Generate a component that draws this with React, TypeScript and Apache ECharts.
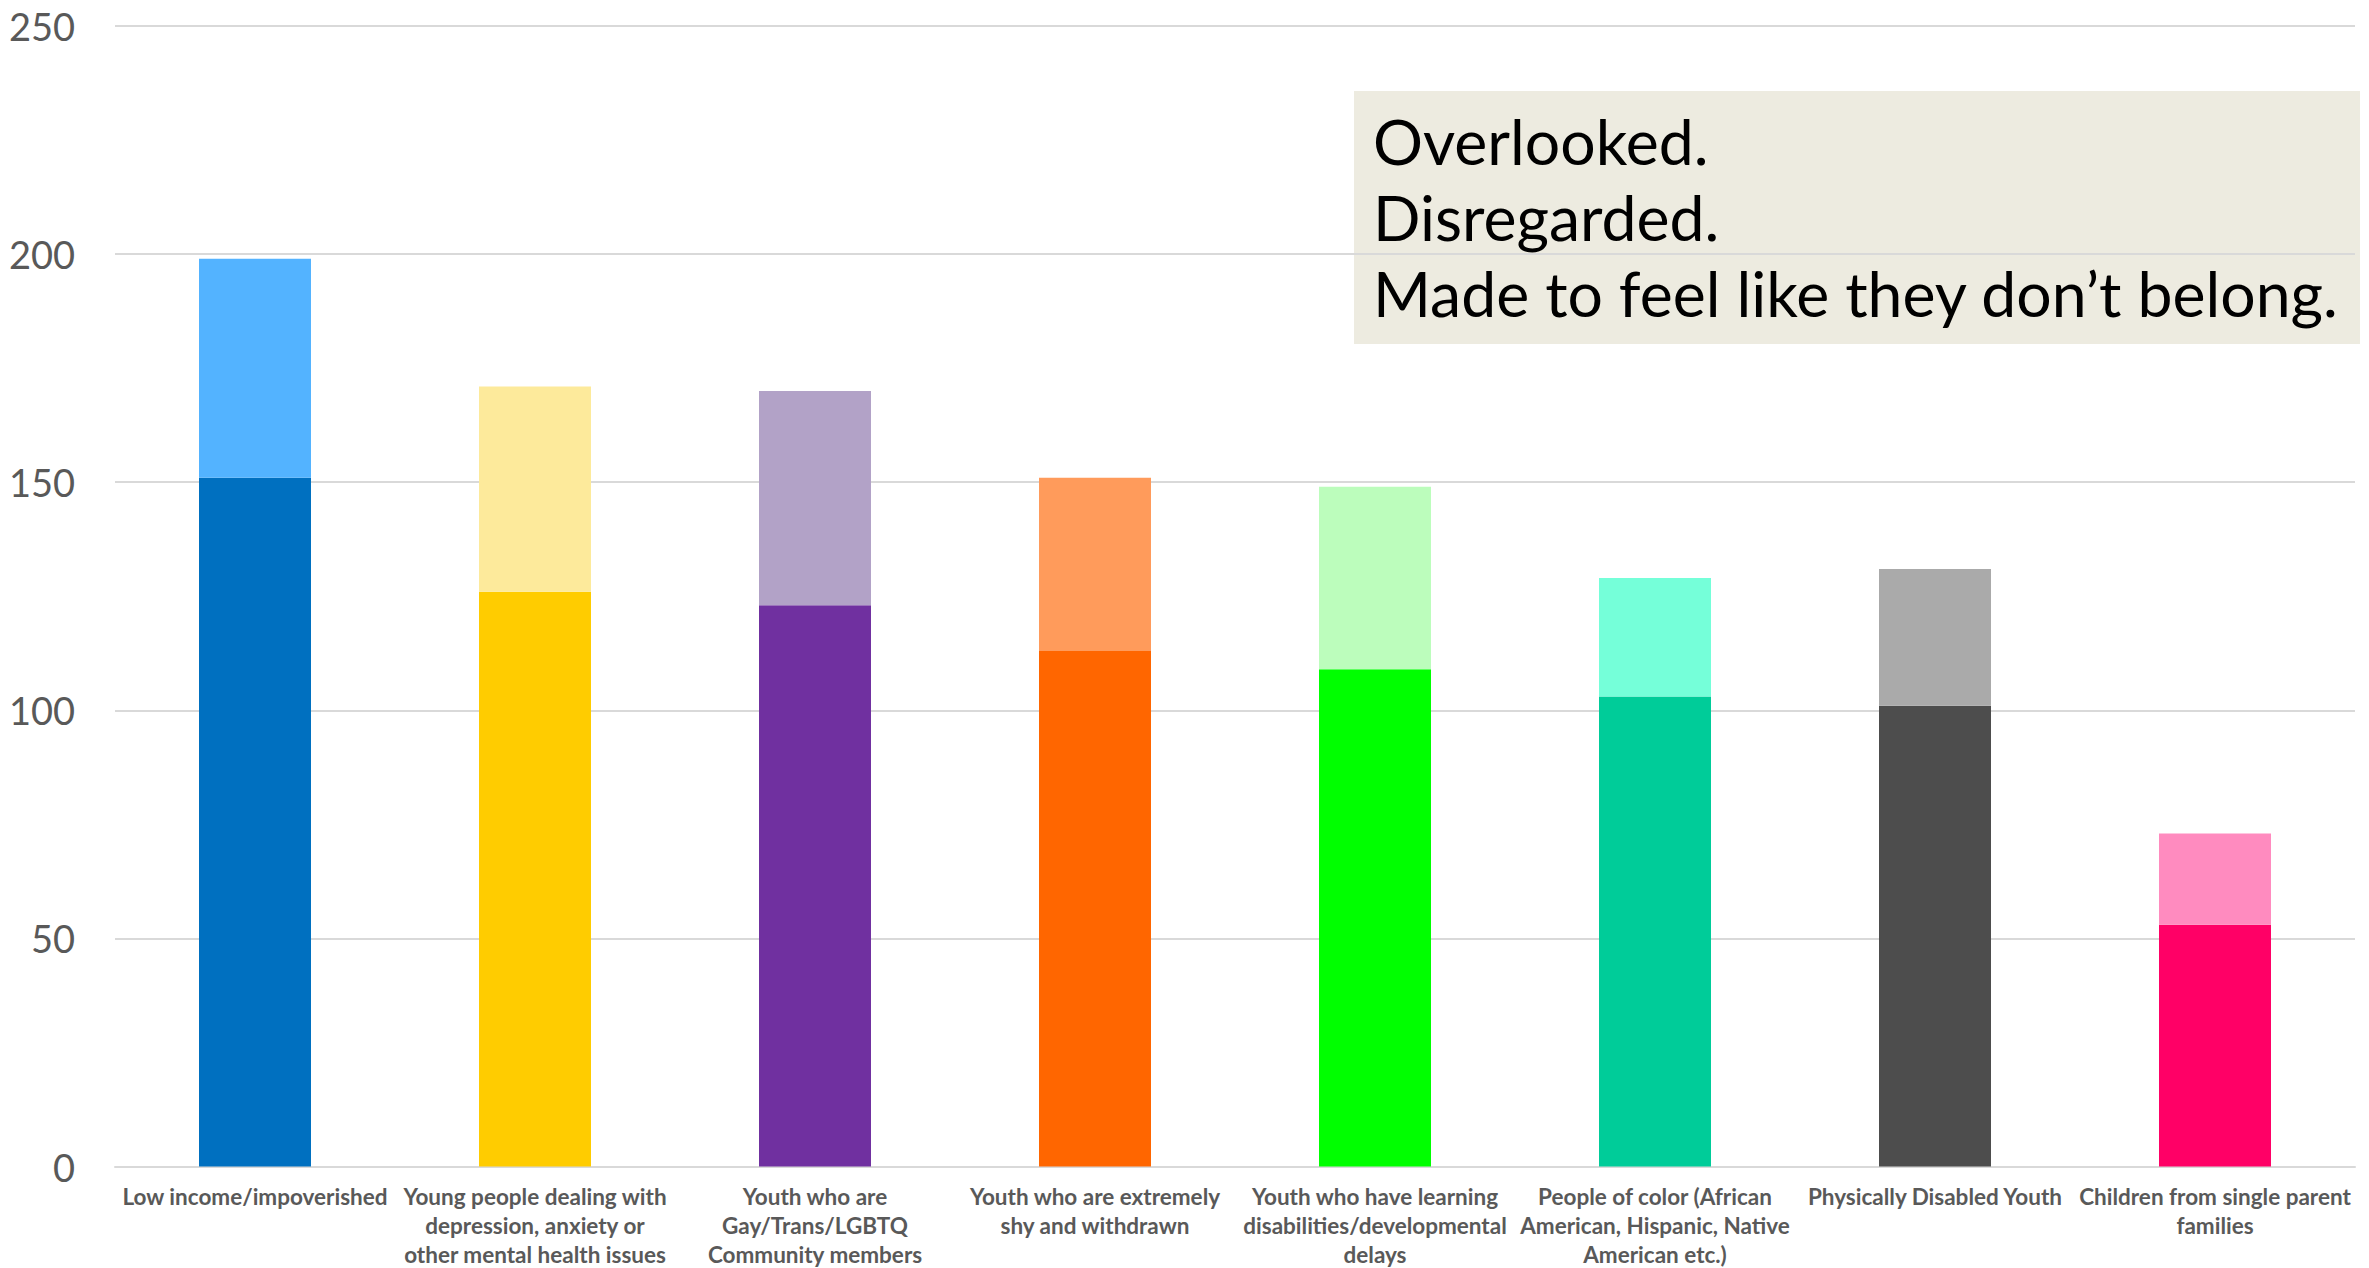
import React, { useEffect, useRef } from "react";
import * as echarts from "echarts";

const categories = [
  "Low income/impoverished",
  "Young people dealing with\ndepression, anxiety or\nother mental health issues",
  "Youth who are\nGay/Trans/LGBTQ\nCommunity members",
  "Youth who are extremely\nshy and withdrawn",
  "Youth who have learning\ndisabilities/developmental\ndelays",
  "People of color (African\nAmerican, Hispanic, Native\nAmerican etc.)",
  "Physically Disabled Youth",
  "Children from single parent\nfamilies",
];

// lower (dark) segment values
const baseValues = [151, 126, 123, 113, 109, 103, 101, 53];
// upper (light) segment values, stacked on top
const topValues = [48, 45, 47, 38, 40, 26, 30, 20];

const darkColors = ["#0070C0", "#FFCC00", "#7030A0", "#FF6600", "#00FF00", "#00CC99", "#4D4D4D", "#FF0066"];
const lightColors = ["#53B3FF", "#FDEA9B", "#B2A2C7", "#FF9B5B", "#BCFDBC", "#75FFD9", "#AAAAAA", "#FF8BBF"];

const yTicks = { min: 0, max: 250, interval: 50 };

const boxLines = ["Overlooked.", "Disregarded.", "Made to feel like they don\u2019t belong."];

export default function App() {
  const ref = useRef<HTMLDivElement>(null);
  useEffect(() => {
    if (!ref.current) return;
    const chart = echarts.init(ref.current, null, { renderer: "svg" });
    chart.setOption({
      animation: false,
      backgroundColor: "#FFFFFF",
      grid: {
        left: 115,
        right: 14,
        top: 26,
        bottom: 101.5,
        containLabel: false,
        outerBoundsMode: "none",
      },
      xAxis: {
        type: "category",
        data: categories,
        boundaryGap: true,
        axisLine: { lineStyle: { color: "#D9D9D9", width: 2 } },
        axisTick: { show: false },
        axisLabel: {
          interval: 0,
          color: "#595959",
          fontFamily: "Lato",
          fontWeight: "bold",
          fontSize: 22.5,
          lineHeight: 29,
          margin: 15,
          verticalAlign: "top",
        },
      },
      yAxis: {
        type: "value",
        min: yTicks.min,
        max: yTicks.max,
        interval: yTicks.interval,
        axisLine: { show: false },
        axisTick: { show: false },
        splitLine: { lineStyle: { color: "#D9D9D9", width: 2 } },
        axisLabel: {
          color: "#595959",
          fontFamily: "Lato",
          fontSize: 38,
          margin: 40,
        },
      },
      series: [
        {
          type: "bar",
          stack: "total",
          barWidth: "40%",
          data: baseValues.map((v, i) => ({ value: v, itemStyle: { color: darkColors[i] } })),
        },
        {
          type: "bar",
          stack: "total",
          barWidth: "40%",
          data: topValues.map((v, i) => ({ value: v, itemStyle: { color: lightColors[i] } })),
        },
      ],
      graphic: [
        {
          type: "group",
          left: 1354,
          top: 91,
          children: [
            {
              type: "rect",
              shape: { x: 0, y: 0, width: 1006, height: 253 },
              style: { fill: "#EDEBE0" },
            },
            {
              type: "text",
              x: 19,
              y: 11,
              style: {
                text: boxLines.join("\n"),
                fontFamily: "Lato",
                fontSize: 62.5,
                lineHeight: 76,
                fill: "#000000",
              },
            },
          ],
        },
      ],
    });
    return () => chart.dispose();
  }, []);
  return (
    <div
      ref={ref}
      style={{ position: "fixed", left: 0, top: 0, width: 2369, height: 1268 }}
    />
  );
}
